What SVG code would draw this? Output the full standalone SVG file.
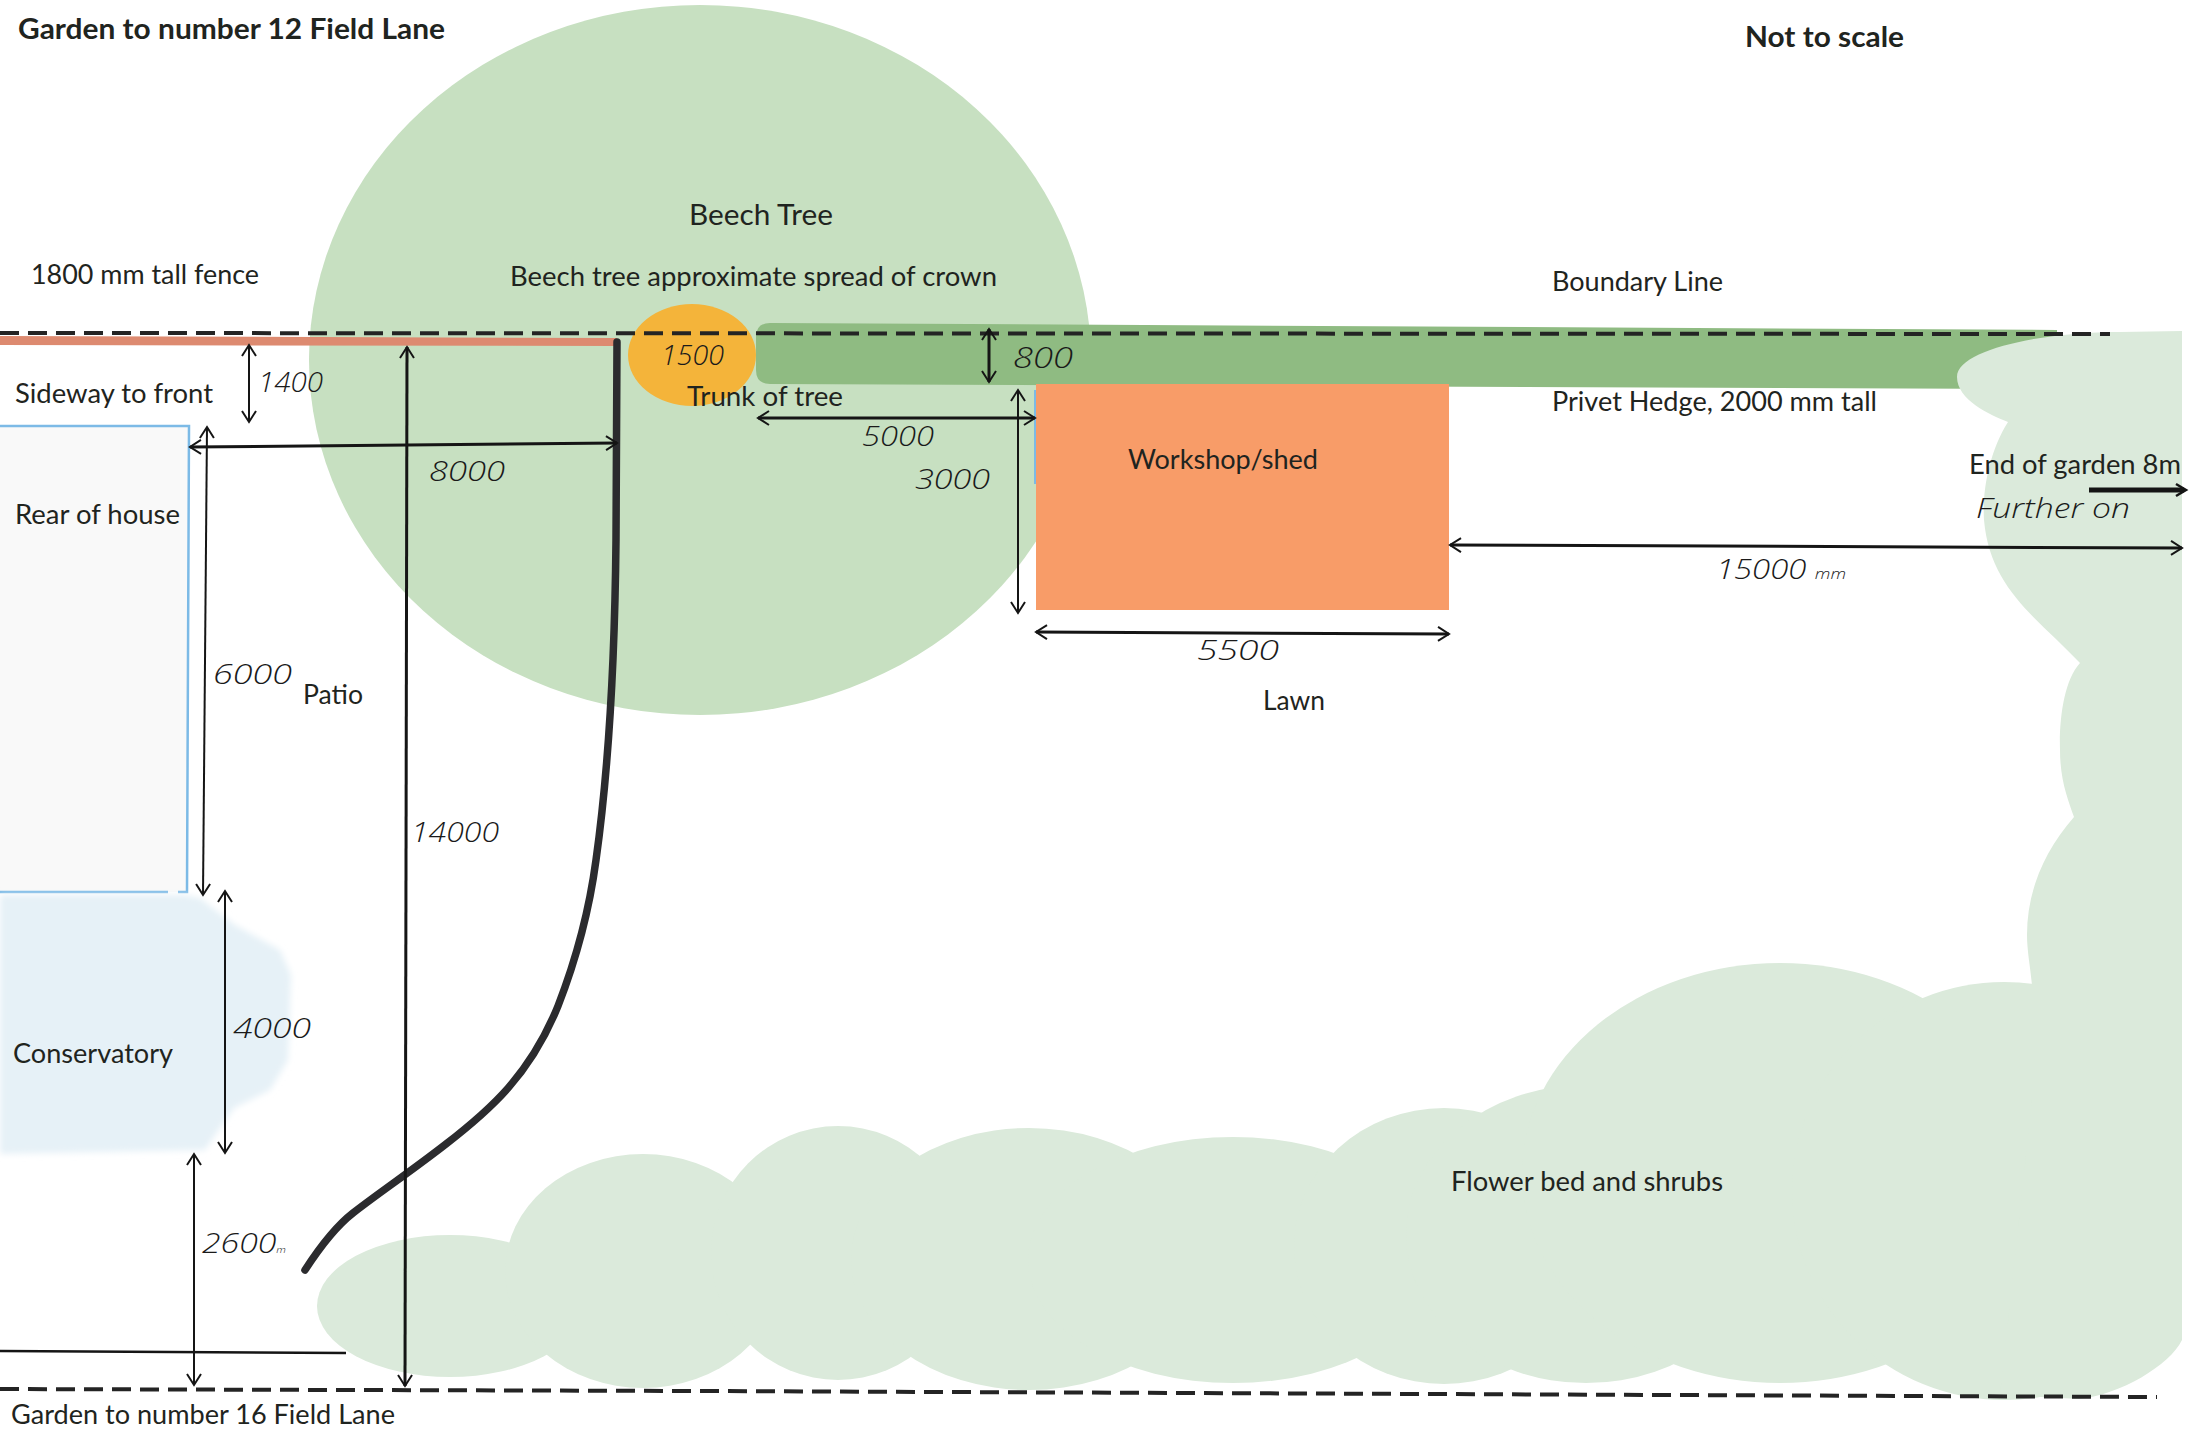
<svg xmlns="http://www.w3.org/2000/svg" width="2189" height="1431" viewBox="0 0 2189 1431">
<style>
text{font-family:"Lato","Liberation Sans",sans-serif;fill:#1f2420;font-size:27px}
.b{font-weight:700;font-size:29px}
.h{font-family:"Open Sans","Liberation Sans",sans-serif;font-weight:300;font-style:italic;font-size:27px;fill:#1a1a1a}
.bed{fill:#dbeadb}
.dim{fill:none;stroke:#151515;stroke-width:2;marker-start:url(#o);marker-end:url(#o)}
.dimb{fill:none;stroke:#151515;stroke-width:3;marker-start:url(#o);marker-end:url(#o)}
.dash{fill:none;stroke:#242424;stroke-width:4;stroke-dasharray:19 9}
</style>
<defs>
<marker id="o" viewBox="-14 -9 16 18" refX="0" refY="0" markerWidth="16" markerHeight="18" markerUnits="userSpaceOnUse" orient="auto-start-reverse">
<path d="M-11,-7 L0,0 L-11,7" fill="none" stroke="#151515" stroke-width="2"/>
</marker>
<clipPath id="page"><rect x="0" y="0" width="2182" height="1431"/></clipPath>
<filter id="soft" x="-5%" y="-5%" width="110%" height="110%"><feGaussianBlur stdDeviation="3"/></filter>
</defs>
<rect width="2189" height="1431" fill="#fff"/>
<g id="crown"><ellipse cx="700" cy="360" rx="391" ry="355" fill="#c7e0c1"/></g>
<g id="trunk"><ellipse cx="692" cy="355" rx="64" ry="51" fill="#f4b43a"/></g>
<g id="hedge"><path d="M770,323 L2057,330 L2057,389 L770,384 Q756,384 756,370 L756,337 Q756,323 770,323 Z" fill="#8fbb82"/></g>
<g id="house"><path d="M0,426 H189 L187,892 H0 Z" fill="#f9f9f9"/><path d="M0,426 H189 L187,892 H178 M168,892 H0" fill="none" stroke="#7cbae6" stroke-width="2.5"/></g>
<g id="conservatory"><path d="M0,895 H185 L200,898 L235,925 L280,950 L291,975 L288,1060 L270,1090 L234,1108 L205,1150 L0,1154 Z" fill="#e6f1f7" filter="url(#soft)"/></g>
<g id="shed"><rect x="1034" y="390" width="4" height="94" fill="#7cbae6"/><rect x="1036" y="384" width="413" height="226" fill="#f89c68"/></g>
<g id="flower-bed" class="bed" clip-path="url(#page)">
<ellipse cx="450" cy="1306" rx="133" ry="71"/>
<ellipse cx="643" cy="1271" rx="138" ry="117"/>
<ellipse cx="838" cy="1253" rx="127" ry="127"/>
<ellipse cx="1029" cy="1259" rx="178" ry="131"/>
<ellipse cx="1233" cy="1260" rx="205" ry="123"/>
<ellipse cx="1444" cy="1246" rx="150" ry="138"/>
<ellipse cx="1586" cy="1234" rx="180" ry="149"/>
<ellipse cx="1780" cy="1173" rx="258" ry="210"/>
<ellipse cx="2004" cy="1191" rx="212" ry="209"/>
<path d="M2186,331 L2120,332 C2040,332 1957,350 1957,377 C1957,400 1990,415 2008,422 C1990,450 1982,490 1984,520 C1990,590 2040,620 2080,663 C2064,680 2059,720 2060,750 C2060,780 2068,800 2074,817 C2045,850 2027,890 2027,935 C2027,950 2030,965 2032,985 L2032,1100 L2000,1395 L2079,1399 C2120,1395 2170,1365 2182,1340 L2186,1300 Z"/>
</g>
<g id="fence"><path d="M0,336 L617,338 L617,346 L0,345 Z" fill="#dd8a70"/></g>
<g id="boundaries">
<path class="dash" d="M0,333 L2110,334"/>
<path class="dash" d="M0,1389 L700,1391 L2157,1397"/>
</g>
<g id="garden-edge">
<path d="M617,342 L616,540 C615,640 610,760 596,860 C588,920 572,970 558,1006 C530,1075 490,1110 446,1144 C410,1172 380,1192 353,1213 C335,1227 318,1250 305,1270" fill="none" stroke="#2b2b2e" stroke-width="7.5" stroke-linecap="round"/>
<path d="M0,1351 L346,1353" fill="none" stroke="#151515" stroke-width="2.5"/>
</g>
<g id="dimensions">
<path class="dim" d="M249,345 L249,422"/>
<path class="dimb" d="M407,347 L405,1386"/>
<path class="dimb" d="M190,447 L617,443"/>
<path class="dim" d="M207,427 L203,895"/>
<path class="dim" d="M225,891 L225,1153"/>
<path class="dim" d="M194,1154 L194,1385"/>
<path class="dimb" d="M989,329 L989,382"/>
<path class="dimb" d="M758,418 L1035,418"/>
<path class="dim" d="M1018,390 L1018,613"/>
<path class="dimb" d="M1036,632 L1449,634"/>
<path class="dimb" d="M1450,545 L2182,548"/>
<path d="M2089,490 L2184,490" fill="none" stroke="#151515" stroke-width="5"/>
<path d="M2176,484 L2186,490 L2176,496" fill="none" stroke="#151515" stroke-width="2.5"/>
</g>
<g id="labels">
<text class="b" x="18" y="39" textLength="427" lengthAdjust="spacingAndGlyphs">Garden to number 12 Field Lane</text>
<text class="b" x="1745" y="47" textLength="159" lengthAdjust="spacingAndGlyphs">Not to scale</text>
<text x="689" y="225" style="font-size:29px" textLength="144" lengthAdjust="spacingAndGlyphs">Beech Tree</text>
<text x="510" y="286" textLength="487" lengthAdjust="spacingAndGlyphs">Beech tree approximate spread of crown</text>
<text x="31" y="284" textLength="228" lengthAdjust="spacingAndGlyphs">1800 mm tall fence</text>
<text x="15" y="403" textLength="198" lengthAdjust="spacingAndGlyphs">Sideway to front</text>
<text x="15" y="524" textLength="165" lengthAdjust="spacingAndGlyphs">Rear of house</text>
<text x="303" y="704" textLength="60" lengthAdjust="spacingAndGlyphs">Patio</text>
<text x="687" y="406" textLength="156" lengthAdjust="spacingAndGlyphs">Trunk of tree</text>
<text x="1552" y="291" textLength="171" lengthAdjust="spacingAndGlyphs">Boundary Line</text>
<text x="1552" y="411" textLength="325" lengthAdjust="spacingAndGlyphs">Privet Hedge, 2000 mm tall</text>
<text x="1128" y="469" textLength="190" lengthAdjust="spacingAndGlyphs">Workshop/shed</text>
<text x="1969" y="474" textLength="212" lengthAdjust="spacingAndGlyphs">End of garden 8m</text>
<text x="1263" y="710" textLength="62" lengthAdjust="spacingAndGlyphs">Lawn</text>
<text x="1451" y="1191" textLength="272" lengthAdjust="spacingAndGlyphs">Flower bed and shrubs</text>
<text x="13" y="1063" textLength="160" lengthAdjust="spacingAndGlyphs">Conservatory</text>
<text x="11" y="1424" textLength="384" lengthAdjust="spacingAndGlyphs">Garden to number 16 Field Lane</text>
</g>
<g id="handwriting">
<text class="h" x="258" y="392" textLength="65" lengthAdjust="spacingAndGlyphs">1400</text>
<text class="h" x="429" y="481" textLength="76" lengthAdjust="spacingAndGlyphs">8000</text>
<text class="h" x="661" y="365" textLength="63" lengthAdjust="spacingAndGlyphs">1500</text>
<text class="h" x="1013" y="368" style="font-size:30px" textLength="60" lengthAdjust="spacingAndGlyphs">800</text>
<text class="h" x="862" y="446" textLength="72" lengthAdjust="spacingAndGlyphs">5000</text>
<text class="h" x="915" y="489" textLength="75" lengthAdjust="spacingAndGlyphs">3000</text>
<text class="h" x="213" y="684" textLength="79" lengthAdjust="spacingAndGlyphs">6000</text>
<text class="h" x="411" y="842" textLength="88" lengthAdjust="spacingAndGlyphs">14000</text>
<text class="h" x="233" y="1038" textLength="78" lengthAdjust="spacingAndGlyphs">4000</text>
<text class="h" x="202" y="1253" textLength="84" lengthAdjust="spacingAndGlyphs">2600<tspan style="font-size:9px">m</tspan></text>
<text class="h" x="1716" y="579" textLength="130" lengthAdjust="spacingAndGlyphs">15000 <tspan style="font-size:15px">mm</tspan></text>
<text class="h" x="1197" y="660" textLength="82" lengthAdjust="spacingAndGlyphs">5500</text>
<text class="h" x="1976" y="518" textLength="154" lengthAdjust="spacingAndGlyphs">Further on</text>
</g>
</svg>
